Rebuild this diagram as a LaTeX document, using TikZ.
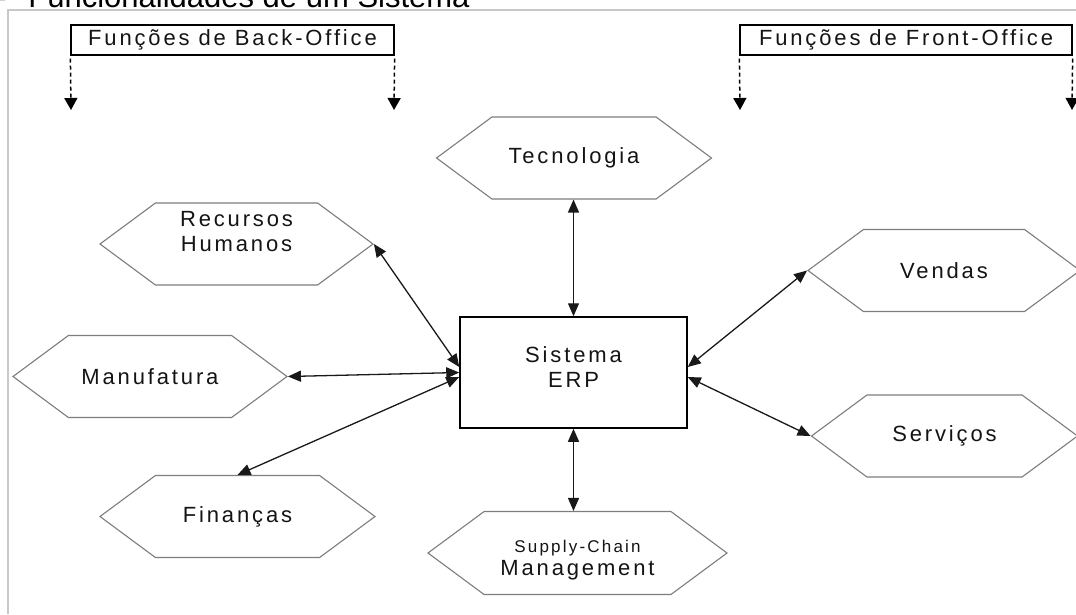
\documentclass[tikz,border=0pt]{standalone}
\usepackage{fontspec}
\setmainfont{Liberation Sans}
\newfontfamily\labfont{Liberation Sans}[LetterSpace=13]
\newfontfamily\smlfont{Liberation Sans}[LetterSpace=13]
\usetikzlibrary{shapes.symbols,arrows.meta}
\definecolor{hexgray}{RGB}{125,125,125}
\definecolor{framegray}{RGB}{200,200,200}
\definecolor{txt}{RGB}{20,20,20}
\begin{document}
\begin{tikzpicture}[x=1pt,y=-1pt,
  hexa/.style={signal, signal to=east and west, signal pointer angle=73,
    draw=hexgray, fill=white, line width=1.1pt, minimum height=82pt,
    inner sep=0pt, text=txt, align=center,
    font=\labfont\fontsize{22}{25}\selectfont},
  erpbox/.style={draw=black, line width=1.5pt, fill=white,
    minimum width=227pt, minimum height=111pt, inner sep=0pt,
    text=txt, align=center, font=\labfont\fontsize{22}{25}\selectfont},
  fobox/.style={draw=black, line width=1.2pt, minimum height=30pt,
    inner sep=0pt, text=txt, font=\labfont\fontsize{22}{24}\selectfont},
  lbl/.style={inner sep=0pt, text=txt, align=center,
    font=\labfont\fontsize{22}{23}\selectfont},
  conn/.style={draw=black!90, line width=1.3pt,
    {Triangle[length=13pt,width=11pt]}-{Triangle[length=13pt,width=11pt]}},
  dasharr/.style={draw=black, line width=1.5pt, dash pattern=on 4pt off 3pt,
    -{Triangle[length=12pt,width=13pt]}}
]
\path[use as bounding box] (0,0) rectangle (1076,614);
\begin{scope}
\clip (0,0) rectangle (1076,614);
% title (cut off at top)
\node[anchor=base west, inner sep=0pt, font=\fontsize{31}{36}\selectfont]
  (title) at (-12,7.5) {–\hspace{23pt}Funcionalidades de um Sistema};
% frame
\draw[framegray, line width=1.5pt] (8,614) -- (8,10) -- (1076,10);
% header boxes
\node[fobox, minimum width=323pt] (bo) at (232.5,40) {Funções de Back-Office};
\node[fobox, minimum width=332pt] (fo) at (906,40) {Funções de Front-Office};
\coordinate (bo-l) at (71,110);
\coordinate (bo-r) at (394,110);
\coordinate (fo-l) at (740,110);
\coordinate (fo-r) at (1072,110);
\draw[dasharr] ([yshift=-3pt]bo.south west) -- (bo-l);
\draw[dasharr] ([yshift=-3pt]bo.south east) -- (bo-r);
\draw[dasharr] ([yshift=-3pt]fo.south west) -- (fo-l);
\draw[dasharr] ([yshift=-3pt]fo.south east) -- (fo-r);
% hexagons
\node[hexa, minimum width=275pt] (tec) at (574,158) {Tecnologia};
\node[hexa, minimum width=273pt] (rh) at (236.5,244) {Recursos\\Humanos\\\mbox{}};
\node[hexa, minimum width=274pt] (man) at (150,376.5) {Manufatura};
\node[hexa, minimum width=275pt] (fin) at (237.5,516.5) {Finanças};
\node[hexa, minimum width=272pt] (ven) at (944,270.5) {Vendas};
\node[hexa, minimum width=266pt] (ser) at (944.5,436) {Serviços};
\node[hexa, minimum width=299pt, minimum height=83pt] (scm) at (577.5,553) {};
\node[lbl] (scm-t) at ([yshift=-7.5pt]scm.center)
  {{\smlfont\fontsize{17}{23}\selectfont Supply-Chain}\\Management};
% central box
\node[erpbox] (erp) at (573.5,372.5) {Sistema\\ERP\\[-15pt]\mbox{}};
% connectors
\draw[conn] (tec.south -| erp.north) -- (erp.north);
\draw[conn] (rh.east) -- ([yshift=5.5pt]erp.west);
\draw[conn] (man.east) -- (erp.west);
\draw[conn] (fin.north) -- ([yshift=-4.5pt]erp.west);
\draw[conn] (ven.west) -- ([yshift=5.5pt]erp.east);
\draw[conn] (ser.west) -- ([yshift=-4.5pt]erp.east);
\draw[conn] (erp.south) -- (erp.south |- scm.north);
\end{scope}
\end{tikzpicture}
\end{document}
